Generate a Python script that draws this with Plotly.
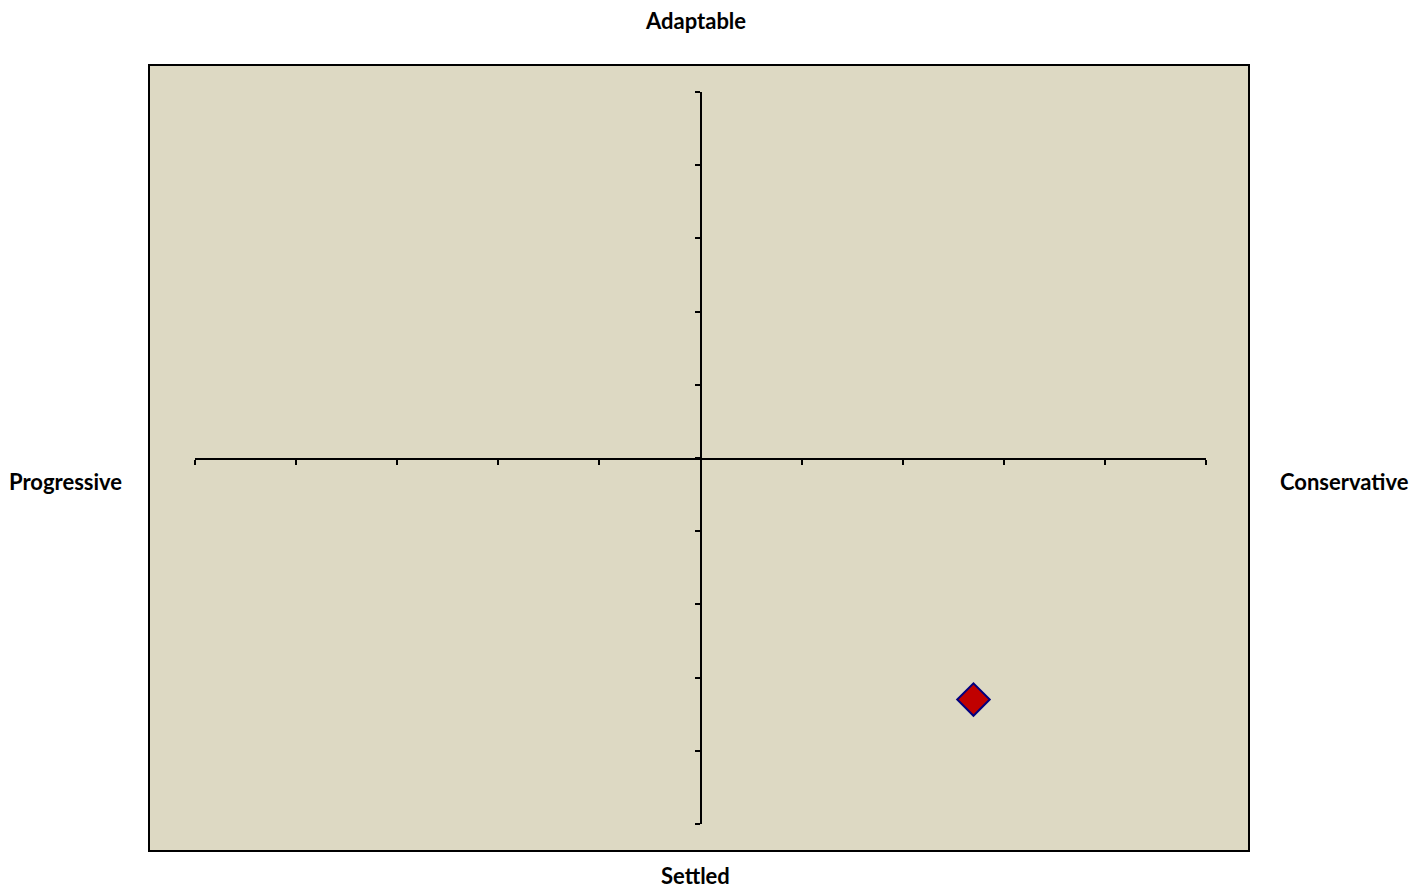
import plotly.graph_objects as go

# Data
x_values = [2.7]
y_values = [-3.3]
axis_min, axis_max, axis_step = -5, 5, 1
label_top = "Adaptable"
label_bottom = "Settled"
label_left = "Progressive"
label_right = "Conservative"

OFF = 8  # page body margin offset
W, H = 1422 - OFF, 890 - OFF
L, R, T, B = 150 - OFF, 1248 - OFF, 66 - OFF, 850 - OFF  # plot frame in figure pixels
pw, ph = R - L, B - T

def px_x(p):
    return (p - OFF - L) / pw

def px_y(p):
    return (B - (p - OFF)) / ph

fig = go.Figure()

# invisible trace on the frame axes
fig.add_trace(go.Scatter(x=[0], y=[0], mode="markers", marker=dict(opacity=0),
                         hoverinfo="skip", showlegend=False, xaxis="x", yaxis="y"))

fig.add_trace(go.Scatter(
    x=x_values, y=y_values, mode="markers", xaxis="x2", yaxis="y2",
    marker=dict(symbol="diamond", size=25, color="#C00000",
                line=dict(color="#000080", width=2)),
    showlegend=False))

font = dict(family="Lato, Open Sans, sans-serif", size=22, color="black")

fig.update_layout(
    width=W, height=H,
    margin=dict(l=L, r=W - R, t=T, b=H - B),
    paper_bgcolor="white",
    plot_bgcolor="#DDD9C3",
    showlegend=False,
    xaxis=dict(domain=[0, 1], range=[0, 1], showline=True, mirror=True,
               linecolor="black", linewidth=2, showgrid=False, zeroline=False,
               showticklabels=False, ticks="", fixedrange=True),
    yaxis=dict(domain=[0, 1], range=[0, 1], showline=True, mirror=True,
               linecolor="black", linewidth=2, showgrid=False, zeroline=False,
               showticklabels=False, ticks="", fixedrange=True),
    xaxis2=dict(domain=[px_x(195), px_x(1206)], anchor="free", position=px_y(458.5),
                range=[axis_min, axis_max], dtick=axis_step, tick0=axis_min,
                showline=True, linecolor="black", linewidth=2,
                ticks="outside", ticklen=5, tickwidth=2, tickcolor="black",
                showticklabels=False, showgrid=False, zeroline=False),
    yaxis2=dict(domain=[px_y(824), px_y(92)], anchor="free", position=px_x(700.5),
                range=[axis_min, axis_max], dtick=axis_step, tick0=axis_min,
                showline=True, linecolor="black", linewidth=2,
                ticks="outside", ticklen=5, tickwidth=2, tickcolor="black",
                showticklabels=False, showgrid=False, zeroline=False),
    annotations=[
        dict(text="<b>%s</b>" % label_top, x=px_x(695), y=px_y(20), xref="paper", yref="paper",
             showarrow=False, font=font, xanchor="center", yanchor="middle"),
        dict(text="<b>%s</b>" % label_bottom, x=px_x(695), y=px_y(890), xref="paper", yref="paper",
             showarrow=False, font=font, xanchor="center", yanchor="bottom", borderpad=0),
        dict(text="<b>%s</b>" % label_left, x=px_x(65), y=px_y(481), xref="paper", yref="paper",
             showarrow=False, font=font, xanchor="center", yanchor="middle"),
        dict(text="<b>%s</b>" % label_right, x=px_x(1344), y=px_y(481), xref="paper", yref="paper",
             showarrow=False, font=font, xanchor="center", yanchor="middle"),
    ],
)

fig.write_html("out.html")
